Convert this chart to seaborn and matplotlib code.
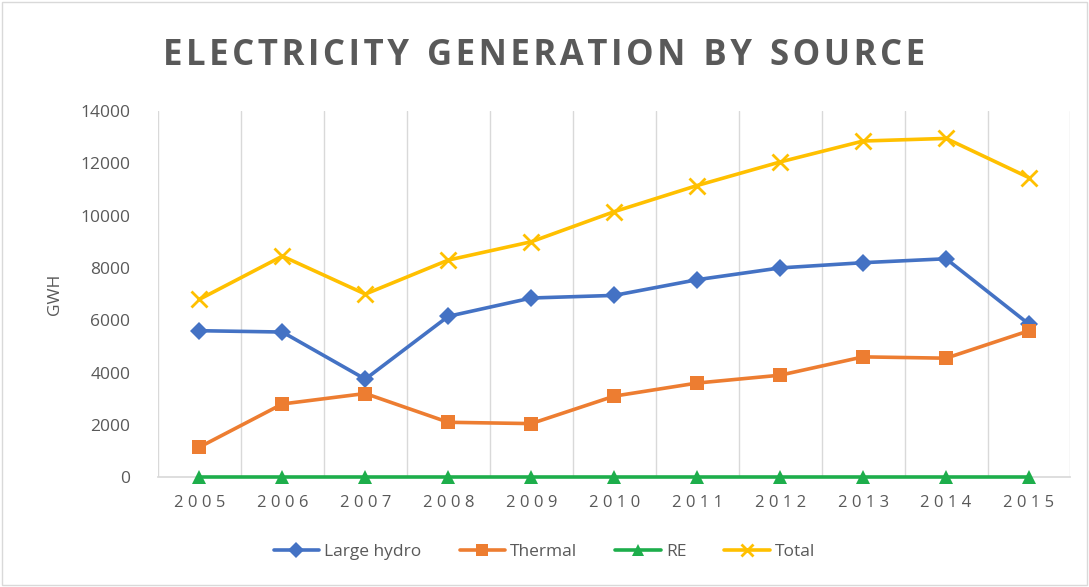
import matplotlib
matplotlib.use("Agg")
import matplotlib.pyplot as plt
import seaborn as sns
import pandas as pd
from matplotlib.patches import Rectangle

years = [2005, 2006, 2007, 2008, 2009, 2010, 2011, 2012, 2013, 2014, 2015]
large_hydro = [5600, 5550, 3750, 6150, 6850, 6950, 7550, 8000, 8200, 8350, 5850]
thermal = [1150, 2800, 3200, 2100, 2050, 3100, 3600, 3900, 4600, 4550, 5600]
re = [20, 20, 20, 20, 20, 20, 20, 20, 20, 20, 20]
total = [6800, 8450, 7000, 8300, 9000, 10150, 11150, 12050, 12850, 12950, 11450]
series_names = ["Large hydro", "Thermal", "RE", "Total"]
y_ticks = [0, 2000, 4000, 6000, 8000, 10000, 12000, 14000]

colors = {"Large hydro": "#4472C4", "Thermal": "#ED7D31", "RE": "#1DAE4B", "Total": "#FFC000"}
markers = {"Large hydro": "D", "Thermal": "s", "RE": "^", "Total": "x"}
msizes = {"Large hydro": 9, "Thermal": 10, "RE": 10, "Total": 11}

series_values = {"Large hydro": large_hydro, "Thermal": thermal, "RE": re, "Total": total}

sns.set_theme(style="white")
plt.rcParams["font.family"] = ["Open Sans", "DejaVu Sans"]

fig = plt.figure(figsize=(10.89, 5.87), dpi=100)
ax = fig.add_axes([0.145, 0.187, 0.838, 0.624])

for n in series_names:
    d = pd.DataFrame({"Year": years, "GWH": series_values[n]})
    kw = dict(markeredgewidth=2, markeredgecolor=colors[n]) if n == "Total" else dict(markeredgewidth=0)
    sns.lineplot(data=d, x="Year", y="GWH", color=colors[n], marker=markers[n],
                 linewidth=2.6, markersize=msizes[n], ax=ax, label=n, legend=False,
                 clip_on=False, zorder=3, **kw)

ax.set_xlim(years[0] - 0.5, years[-1] + 0.5)
ax.set_ylim(0, 14000)
ax.set_yticks(y_ticks)
ax.set_yticklabels([str(v) for v in y_ticks], fontsize=12.5, color="#595959")
ax.set_xticks(years)
ax.set_xticklabels([" ".join(str(y)) for y in years], fontsize=12, color="#595959")
for b in [y - 0.5 for y in years] + [years[-1] + 0.5]:
    ax.axvline(b, color="#D9D9D9", linewidth=1, zorder=0)
for s in ["top", "right", "left"]:
    ax.spines[s].set_visible(False)
ax.spines["bottom"].set_color("#D9D9D9")
ax.tick_params(axis="x", length=0, pad=13)
ax.tick_params(axis="y", length=0, pad=20)
ax.set_xlabel("")
ax.set_ylabel("GWH", fontsize=12.5, color="#595959", labelpad=12)

title = "ELECTRICITY GENERATION BY SOURCE"
spaced = "\u200a".join(title).replace("\u200a \u200a", "  ")
fig.text(0.5, 0.905, spaced, ha="center", va="center", fontsize=25,
         fontweight="bold", color="#595959")

handles = [plt.Line2D([], [], color=colors[n], marker=markers[n], linewidth=2.6,
                      markersize=8, markeredgewidth=2 if n == "Total" else 0)
           for n in series_names]
fig.legend(handles, series_names, loc="center", bbox_to_anchor=(0.5, 0.06), ncol=4,
           frameon=False, fontsize=12.5, labelcolor="#595959", handlelength=2.6,
           columnspacing=2.2, handletextpad=0.3)

fig.add_artist(Rectangle((0.002, 0.003), 0.996, 0.994, transform=fig.transFigure,
                         fill=False, edgecolor="#D9D9D9", linewidth=1))

fig.savefig("out.png", dpi=100, facecolor="white")
